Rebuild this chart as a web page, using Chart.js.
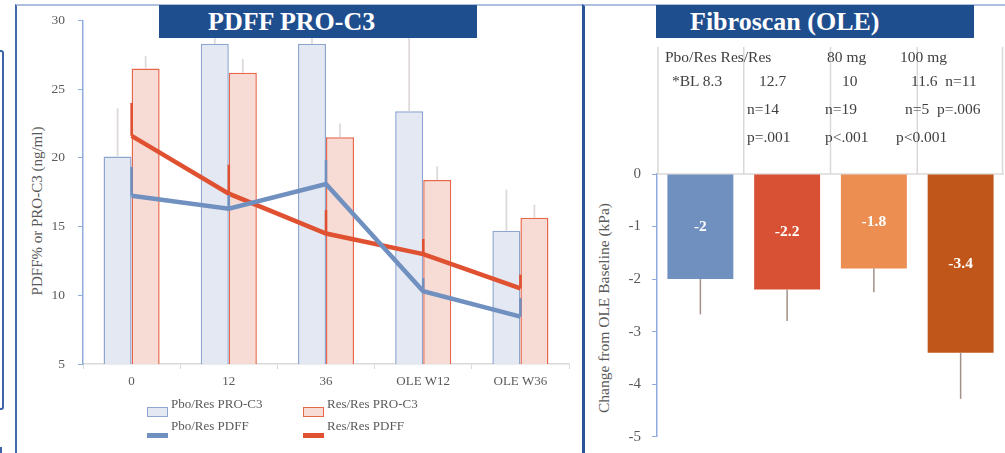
<!DOCTYPE html>
<html>
<head>
<meta charset="utf-8">
<script src="https://cdn.jsdelivr.net/npm/chart.js@4.4.1/dist/chart.umd.min.js"></script>
<style>
  html, body { margin: 0; padding: 0; background: #fff; }
  body { width: 1005px; height: 453px; position: relative; overflow: hidden;
         font-family: "Liberation Serif", "Times New Roman", serif; color: #595959; }
  .abs { position: absolute; }
  .hdr { position: absolute; top: 5px; height: 33px; width: 318px; background: #1f4e8f;
         color: #fff; font-weight: bold; font-size: 26px; line-height: 34px; white-space: nowrap; z-index: 5; }
  .ytitle { position: absolute; white-space: nowrap; transform: translate(-50%, -50%) rotate(-90deg);
            color: #595959; }
  .leg { position: absolute; font-size: 13px; line-height: 16px; white-space: nowrap; color: #595959; }
  .sw-box { position: absolute; width: 19px; height: 8px; }
  .sw-line { position: absolute; width: 21px; height: 5px; }
  .tbl { position: absolute; font-size: 15.5px; line-height: 20px; white-space: nowrap; color: #404040; z-index: 3; }
</style>
</head>
<body>

<!-- frames of the slide panels -->
<div class="abs" style="left:-10px; top:50px; width:10px; height:356px; border:2px solid #3d64a9; border-radius:3px;"></div>
<div class="abs" style="left:0; top:447px; width:2px; height:10px; background:#3d64a9;"></div>
<div class="abs" style="left:15px; top:4px; width:570px; height:460px; border-left:2px solid #4169ad; border-top:2px solid #adc0de;"></div>
<div class="abs" style="left:582px; top:4px; width:430px; height:460px; border-left:3px solid #2a5599; border-top:2px solid #adc0de;"></div>

<!-- left panel -->
<div class="hdr" style="left:159px; padding-left:49px; width:269px;">PDFF PRO-C3</div>
<div class="ytitle" style="left:37px; top:211px; font-size:15px;">PDFF% or PRO-C3 (ng/ml)</div>
<div class="abs" style="left:17px; top:7px; width:564px; height:446px;">
  <canvas id="leftChart" width="564" height="446"></canvas>
</div>

<!-- legend of the left panel -->
<div class="sw-box" style="left:147px; top:407px; background:#e3e8f2; border:1.5px solid #8ea6d0;"></div>
<div class="leg" style="left:171px; top:396px;">Pbo/Res PRO-C3</div>
<div class="sw-line" style="left:147px; top:433px; background:#7090c0;"></div>
<div class="leg" style="left:171px; top:418px;">Pbo/Res PDFF</div>
<div class="sw-box" style="left:303px; top:407px; background:#f7dcd6; border:1.5px solid #e8664a;"></div>
<div class="leg" style="left:327px; top:396px;">Res/Res PRO-C3</div>
<div class="sw-line" style="left:303px; top:433px; background:#df5130;"></div>
<div class="leg" style="left:327px; top:418px;">Res/Res PDFF</div>

<!-- right panel -->
<div class="hdr" style="left:656px; padding-left:34px; width:284px;">Fibroscan (OLE)</div>
<div class="ytitle" style="left:604px; top:308px; font-size:15.5px;">Change from OLE Baseline (kPa)</div>
<div class="abs" style="left:586px; top:7px; width:419px; height:446px;">
  <canvas id="rightChart" width="419" height="446"></canvas>
</div>

<!-- baseline / n / p table above the Fibroscan bars -->
<div class="tbl" style="left:665px; top:47px;">Pbo/Res Res/Res</div>
<div class="tbl" style="left:827px; top:47px;">80 mg</div>
<div class="tbl" style="left:900px; top:47px;">100 mg</div>
<div class="tbl" style="left:672px; top:71px;">*BL 8.3</div>
<div class="tbl" style="left:759px; top:71px;">12.7</div>
<div class="tbl" style="left:842px; top:71px;">10</div>
<div class="tbl" style="left:911px; top:71px;">11.6&nbsp; n=11</div>
<div class="tbl" style="left:747px; top:99px;">n=14</div>
<div class="tbl" style="left:825px; top:99px;">n=19</div>
<div class="tbl" style="left:905px; top:99px;">n=5&nbsp; p=.006</div>
<div class="tbl" style="left:747px; top:127px;">p=.001</div>
<div class="tbl" style="left:825px; top:127px;">p&lt;.001</div>
<div class="tbl" style="left:896px; top:127px;">p&lt;0.001</div>

<script>
// ---- PDFF / PRO-C3 over time ----
const timepoints = ['0', '12', '36', 'OLE W12', 'OLE W36'];
const pboResProC3 = [20.1, 28.3, 28.3, 23.4, 14.7];
const pboResProC3Err = [3.5, 1.2, 1.2, 5.5, 3.0];
const resResProC3 = [26.5, 26.2, 21.5, 18.4, 15.65];
const resResProC3Err = [0.9, 1.0, 1.0, 1.0, 0.95];
const pboResPdff = [17.25, 16.3, 18.1, 10.3, 8.45];
const pboResPdffErr = [2.1, 1.0, 1.75, 0.95, 1.35];
const resResPdff = [21.6, 17.4, 14.5, 13.0, 10.5];
const resResPdffErr = [2.4, 2.1, 1.7, 1.1, 1.0];
const leftTicks = [5, 10, 15, 20, 25, 30];

// ---- Fibroscan change from OLE baseline ----
const fibroGroups = ['Pbo/Res', 'Res/Res', '80 mg', '100 mg'];
const fibroChange = [-2, -2.2, -1.8, -3.4];
const fibroErr = [0.67, 0.6, 0.45, 0.88];
const fibroColors = ['#7090bf', '#d95134', '#ec8d51', '#c0561a'];
const rightTicks = [0, -1, -2, -3, -4, -5];

const serif = '"Liberation Serif", "Times New Roman", serif';
Chart.defaults.font.family = serif;
Chart.defaults.color = '#595959';
Chart.defaults.animation = false;

// fixed y-axis width; the plot edges come from layout padding alone
const fixedYAxis = width => s => { s.width = width; s.paddingTop = 0; s.paddingBottom = 0; };

// upward error whiskers, listed per dataset index
const upErrors = { 0: pboResPdffErr, 1: resResPdffErr, 2: pboResProC3Err, 3: resResProC3Err };
const errColors = { 0: '#7090c0', 1: '#df5130', 2: '#dedad9', 3: '#dedad9' };
const errWidths = { 0: 2.5, 1: 2.5, 2: 1.8, 3: 1.8 };

const upErrorPlugin = {
  id: 'upErrors',
  afterDatasetsDraw(chart) {
    const ctx = chart.ctx;
    const y = chart.scales.y;
    [2, 3, 0, 1].forEach(di => {
      const meta = chart.getDatasetMeta(di);
      const vals = chart.data.datasets[di].data;
      ctx.save();
      ctx.strokeStyle = errColors[di];
      ctx.lineWidth = errWidths[di];
      meta.data.forEach((el, i) => {
        const err = upErrors[di][i];
        if (!err) return;
        ctx.beginPath();
        ctx.moveTo(el.x, y.getPixelForValue(vals[i]));
        ctx.lineTo(el.x, y.getPixelForValue(vals[i] + err));
        ctx.stroke();
      });
      ctx.restore();
    });
  }
};

new Chart(document.getElementById('leftChart'), {
  type: 'bar',
  data: {
    labels: timepoints,
    datasets: [
      { type: 'line', label: 'Pbo/Res PDFF', data: pboResPdff, borderColor: '#7090c0',
        borderWidth: 4.5, pointRadius: 0, fill: false, tension: 0, order: 0 },
      { type: 'line', label: 'Res/Res PDFF', data: resResPdff, borderColor: '#df5130',
        borderWidth: 4.5, pointRadius: 0, fill: false, tension: 0, order: 1 },
      { label: 'Pbo/Res PRO-C3', data: pboResProC3, backgroundColor: '#e3e8f2',
        borderColor: '#8ea6d0', borderWidth: 1.5, order: 2,
        categoryPercentage: 0.577, barPercentage: 1 },
      { label: 'Res/Res PRO-C3', data: resResProC3, backgroundColor: '#f7dcd6',
        borderColor: '#e8664a', borderWidth: 1.5, order: 2,
        categoryPercentage: 0.577, barPercentage: 1 }
    ]
  },
  options: {
    responsive: false,
    devicePixelRatio: 1,
    layout: { padding: { top: 13.5, right: 12, left: 0, bottom: 0 } },
    plugins: { legend: { display: false }, tooltip: { enabled: false } },
    scales: {
      x: {
        grid: { display: true, drawOnChartArea: false, drawTicks: true, tickLength: 5, color: '#d9d9d9' },
        border: { color: '#d9d9d9', width: 1.5 },
        ticks: { font: { size: 13 }, color: '#595959', padding: 5, maxRotation: 0 },
        afterFit(s) { s.height = 89; }
      },
      y: {
        min: 5, max: 30,
        afterBuildTicks(s) { s.ticks = leftTicks.map(v => ({ value: v })); },
        grid: { display: true, drawOnChartArea: false, drawTicks: true, tickLength: 5, color: '#8faadc' },
        border: { color: '#8faadc', width: 1.5 },
        ticks: { font: { size: 13.5 }, color: '#595959', padding: 13 },
        afterFit: fixedYAxis(66)
      }
    }
  },
  plugins: [upErrorPlugin]
});

// table rules above the bars, error whiskers and value labels
const fibroPlugin = {
  id: 'fibroDecor',
  beforeDatasetsDraw(chart) {
    const ctx = chart.ctx;
    const x = chart.scales.x;
    const area = chart.chartArea;
    const half = (x.getPixelForValue(1) - x.getPixelForValue(0)) / 2;
    const topY = 40;
    ctx.save();
    ctx.strokeStyle = '#dcd8d8';
    ctx.lineWidth = 1.5;
    for (let i = 0; i <= fibroGroups.length; i++) {
      let px = i < fibroGroups.length ? x.getPixelForValue(i) - half : x.getPixelForValue(i - 1) + half - 1.5;
      if (i === 0) px = area.left + 1;
      ctx.beginPath();
      ctx.moveTo(px, topY);
      ctx.lineTo(px, area.top);
      ctx.stroke();
    }
    ctx.beginPath();
    ctx.moveTo(area.left, area.top);
    ctx.lineTo(area.right, area.top);
    ctx.stroke();
    ctx.restore();
  },
  afterDatasetsDraw(chart) {
    const ctx = chart.ctx;
    const y = chart.scales.y;
    const meta = chart.getDatasetMeta(0);
    ctx.save();
    meta.data.forEach((el, i) => {
      const v = fibroChange[i];
      ctx.strokeStyle = '#a39086';
      ctx.lineWidth = 1.5;
      ctx.beginPath();
      ctx.moveTo(el.x, y.getPixelForValue(v));
      ctx.lineTo(el.x, y.getPixelForValue(v - fibroErr[i]));
      ctx.stroke();
      ctx.fillStyle = '#ffffff';
      ctx.font = 'bold 15.5px ' + serif;
      ctx.textAlign = 'center';
      ctx.textBaseline = 'middle';
      ctx.fillText(String(v), el.x, (el.y + el.base) / 2);
    });
    ctx.restore();
  }
};

new Chart(document.getElementById('rightChart'), {
  type: 'bar',
  data: {
    labels: fibroGroups,
    datasets: [
      { label: 'Change from OLE Baseline', data: fibroChange, backgroundColor: fibroColors,
        borderWidth: 0, categoryPercentage: 0.76, barPercentage: 1 }
    ]
  },
  options: {
    responsive: false,
    devicePixelRatio: 1,
    layout: { padding: { top: 167, right: 1, left: 0, bottom: 16.3 } },
    plugins: { legend: { display: false }, tooltip: { enabled: false } },
    scales: {
      x: { display: false },
      y: {
        min: -5, max: 0,
        afterBuildTicks(s) { s.ticks = rightTicks.map(v => ({ value: v })); },
        grid: { display: true, drawOnChartArea: false, drawTicks: true, tickLength: 5, color: '#8faadc' },
        border: { color: '#8faadc', width: 1.5 },
        ticks: { font: { size: 15 }, color: '#595959', padding: 11 },
        afterFit: fixedYAxis(71)
      }
    }
  },
  plugins: [fibroPlugin]
});
</script>
</body>
</html>
